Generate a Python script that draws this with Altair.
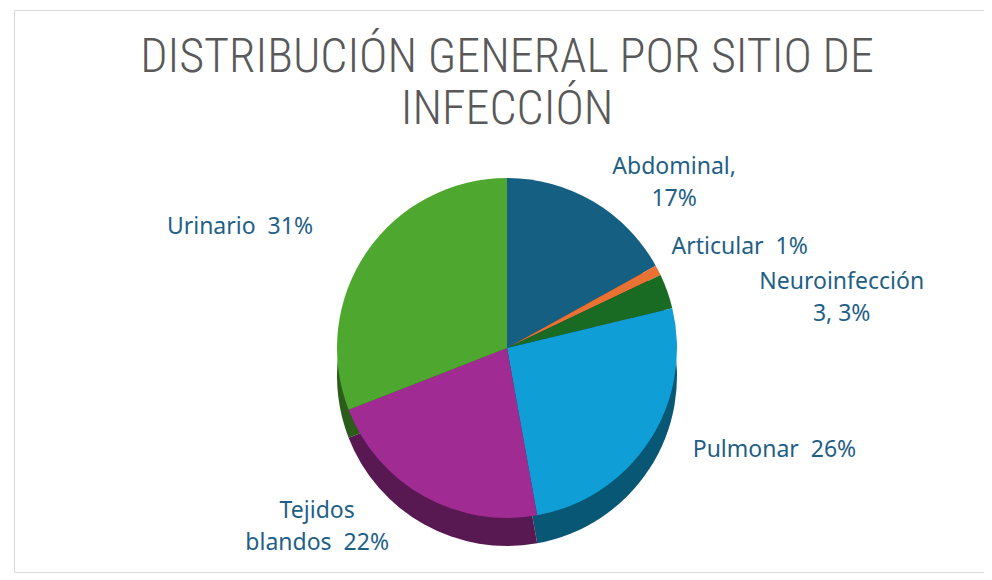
import altair as alt
import pandas as pd

# ---- data ----
categorias = ["Abdominal", "Articular", "Neuroinfección", "Pulmonar", "Tejidos blandos", "Urinario"]
porcentajes = [17, 1, 3.3, 26, 22, 31]
etiquetas = ["Abdominal,\n17%", "Articular \u00a01%", "Neuroinfección\n3, 3%",
             "Pulmonar \u00a026%", "Tejidos\nblandos \u00a022%", "Urinario \u00a031%"]
colores = ["#156082", "#E97132", "#196B24", "#0F9ED5", "#A02B93", "#4EA72E"]
colores_lado = ["#0c3548", "#803e1c", "#0e3b14", "#085775", "#581851", "#2b5c19"]
titulo_lineas = ["DISTRIBUCIÓN GENERAL POR SITIO DE", "INFECCIÓN"]

df = pd.DataFrame({
    "categoria": categorias,
    "pct": porcentajes,
    "etiqueta": etiquetas,
    "orden": list(range(len(categorias))),
})

W, H = 970, 562
CX, CY = 493, 338
R = 170
DEPTH = 28
LABEL_FONT = "Noto Sans"
LABEL_COLOR = "#1f5f86"
LABEL_SIZE = 23

base = alt.Chart(df).encode(
    theta=alt.Theta("pct:Q", stack=True),
    order=alt.Order("orden:Q"),
)

lado = base.mark_arc(radius=R).encode(
    color=alt.Color("categoria:N", scale=alt.Scale(domain=categorias, range=colores_lado), legend=None),
    x=alt.value(CX), y=alt.value(CY + DEPTH),
)

tapa = base.mark_arc(radius=R).encode(
    color=alt.Color("categoria:N", scale=alt.Scale(domain=categorias, range=colores), legend=None),
    x=alt.value(CX), y=alt.value(CY),
)


def etiqueta(cat, **mark):
    props = dict(fontSize=LABEL_SIZE, font=LABEL_FONT, color=LABEL_COLOR,
                 lineBreak="\n", lineHeight=32)
    props.update(mark)
    return base.transform_calculate(
        t=f"datum.categoria == '{cat}' ? datum.etiqueta : ''"
    ).mark_text(**props).encode(text="t:N", x=alt.value(CX), y=alt.value(CY))


capas_texto = [
    etiqueta("Abdominal", radius=215, align="center", dx=58, dy=4),
    etiqueta("Articular", radius=185, align="left", dy=-16),
    etiqueta("Neuroinfección", radius=355, align="center", dy=52),
    etiqueta("Pulmonar", radius=205, align="left", dx=14, dy=-10),
    etiqueta("Tejidos blandos", radius=235, align="center", dx=-75, dy=-42),
    etiqueta("Urinario", radius=235, align="right", dy=12),
]

TITLE_FONT = "Roboto Condensed, Liberation Sans Narrow, DejaVu Sans Condensed, sans-serif"


def linea_titulo(texto, y):
    return alt.Chart(pd.DataFrame({"titulo": [texto]})).mark_text(
        fontSize=48, font=TITLE_FONT, fontWeight=300,
        color="#595959", align="center", baseline="alphabetic",
    ).encode(text="titulo:N", x=alt.value(CX), y=alt.value(y))


titulo_capas = [linea_titulo(titulo_lineas[0], 62), linea_titulo(titulo_lineas[1], 114)]

chart = alt.layer(lado, tapa, *capas_texto, *titulo_capas).resolve_scale(
    color="independent"
).properties(
    width=W, height=H,
    padding={"left": 6, "top": 2, "right": 0, "bottom": 0},
).configure_view(stroke="#d9d9d9", strokeWidth=1)

chart.save("out.html", embed_options={"renderer": "svg", "actions": False})
